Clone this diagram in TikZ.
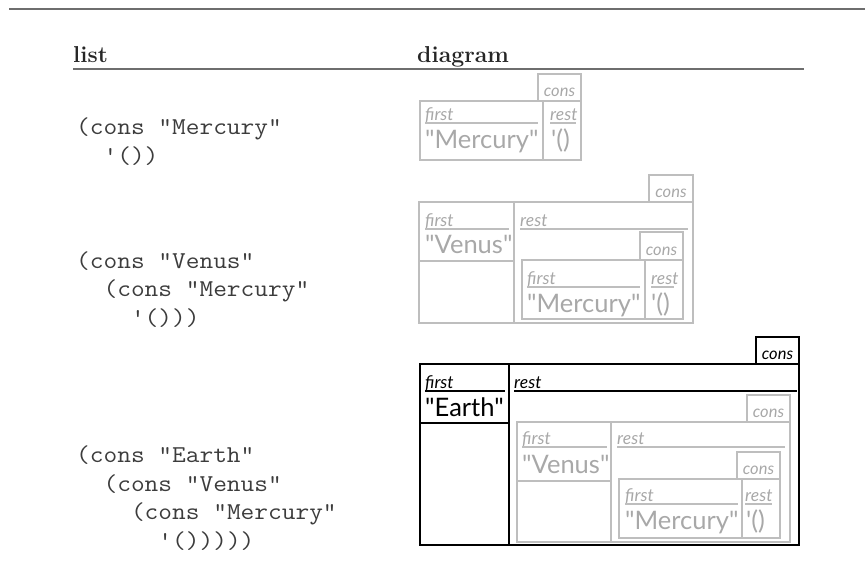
\documentclass[tikz,border=0pt]{standalone}
\usepackage{fontspec}
\newfontfamily\gillfont{Lato}
\newfontfamily\codefont{Latin Modern Mono}[FakeStretch=1.1]
\definecolor{boxgray}{RGB}{190,190,190}
\definecolor{txtgray}{RGB}{168,168,168}
\definecolor{codegray}{RGB}{60,60,60}
\definecolor{rulegray}{RGB}{110,110,110}
\tikzset{
  gbox/.style={draw=boxgray, line width=1.8pt},
  kbox/.style={draw=black, line width=1.8pt},
  gline/.style={draw=boxgray, line width=1.3pt},
  kline/.style={draw=black, line width=1.3pt},
  lbl/.style={anchor=base west, inner sep=0pt, font=\gillfont\itshape\fontsize{17.5}{19}\selectfont},
  tag/.style={anchor=base, inner sep=0pt, font=\gillfont\itshape\fontsize{16.5}{18}\selectfont},
  val/.style={anchor=base west, inner sep=0pt, font=\gillfont\fontsize{25.5}{28}\selectfont},
  codeblock/.style={anchor=base west, inner sep=0pt, align=left, text=codegray,
    font=\codefont\fontsize{24.2}{28.5}\selectfont},
  head/.style={anchor=base west, inner sep=0pt, text=black!85,
    font=\bfseries\fontsize{23}{26}\selectfont}
}
\begin{document}
\begin{tikzpicture}[x=1pt, y=-1pt]
\useasboundingbox (0,0) rectangle (865,584);
\draw[rulegray, line width=1.5pt] (9,9) -- (865,9);
\node[head] (hlist) at (73,62) {list};
\node[head] (hdiag) at (417,62) {diagram};
\draw[rulegray, line width=1.5pt] (73,69) -- (804,69);

\node[codeblock] (code1) at (76,163) {(cons "Mercury"\\\hphantom{xx}'())};
\node[codeblock] (code2) at (76,325) {(cons "Venus"\\\hphantom{xx}(cons "Mercury"\\\hphantom{xxxx}'()))};
\node[codeblock] (code3) at (76,548) {(cons "Earth"\\\hphantom{xx}(cons "Venus"\\\hphantom{xxxx}(cons "Mercury"\\\hphantom{xxxxxx}'()))))};

% mercury alone
\draw[gbox] (538,74) rectangle (581,101);
\draw[gbox] (420,101) rectangle (581,160);
\draw[gbox] (543,101) -- (543,160);
\node[tag, text=txtgray] (m1cons) at (559.5,96) {cons};
\node[lbl, text=txtgray] (m1first) at (425,120) {first};
\draw[gline] (425,123) -- (538,123);
\node[lbl, text=txtgray] (m1rest) at (550,120) {rest};
\draw[gline] (550,123) -- (576,123);
\node[val, text=txtgray] (m1val) at (425,148) {"Mercury"};
\node[val, text=txtgray] (m1nil) at (551,148) {'()};

% venus
\draw[gbox] (649,175) rectangle (693,202);
\draw[gbox] (419,202) rectangle (693,323);
\draw[gbox] (514,202) -- (514,323);
\draw[gbox] (419,261) -- (514,261);
\node[tag, text=txtgray] (v2cons) at (671,197) {cons};
\node[lbl, text=txtgray] (v2first) at (425,226) {first};
\draw[gline] (425,229) -- (509,229);
\node[lbl, text=txtgray] (v2rest) at (520,226) {rest};
\draw[gline] (520,229) -- (688,229);
\node[val, text=txtgray] (v2val) at (425,253) {"Venus"};
\draw[gbox] (640,232) rectangle (683,260);
\draw[gbox] (522,260) rectangle (683,319);
\draw[gbox] (645,260) -- (645,319);
\node[tag, text=txtgray] (m2cons) at (661.5,255) {cons};
\node[lbl, text=txtgray] (m2first) at (527,284) {first};
\draw[gline] (527,287) -- (640,287);
\node[lbl, text=txtgray] (m2rest) at (651,284) {rest};
\draw[gline] (651,287) -- (674,287);
\node[val, text=txtgray] (m2val) at (527,312) {"Mercury"};
\node[val, text=txtgray] (m2nil) at (651,312) {'()};

% earth
\draw[kbox] (756,337) rectangle (799,364);
\draw[kbox] (420,364) rectangle (799,545);
\draw[kbox] (509,364) -- (509,545);
\draw[kbox] (420,423) -- (509,423);
\node[tag] (e3cons) at (777.5,359) {cons};
\node[lbl] (e3first) at (425,388) {first};
\draw[kline] (425,391) -- (505,391);
\node[lbl] (e3rest) at (514,388) {rest};
\draw[kline] (514,391) -- (797,391);
\node[val] (e3val) at (425,416) {"Earth"};
\draw[gbox] (747,395) rectangle (790,422);
\draw[gbox] (517,422) rectangle (790,542);
\draw[gbox] (611,422) -- (611,542);
\draw[gbox] (517,481) -- (611,481);
\node[tag, text=txtgray] (v3cons) at (768.5,417) {cons};
\node[lbl, text=txtgray] (v3first) at (522,444) {first};
\draw[gline] (522,447) -- (607,447);
\node[lbl, text=txtgray] (v3rest) at (617,444) {rest};
\draw[gline] (617,447) -- (785,447);
\node[val, text=txtgray] (v3val) at (522,473) {"Venus"};
\draw[gbox] (737,452) rectangle (780,479);
\draw[gbox] (619,479) rectangle (780,538);
\draw[gbox] (742,479) -- (742,538);
\node[tag, text=txtgray] (m3cons) at (758.5,474) {cons};
\node[lbl, text=txtgray] (m3first) at (625,501) {first};
\draw[gline] (625,504) -- (738,504);
\node[lbl, text=txtgray] (m3rest) at (745,501) {rest};
\draw[gline] (745,504) -- (772,504);
\node[val, text=txtgray] (m3val) at (625,529) {"Mercury"};
\node[val, text=txtgray] (m3nil) at (746,529) {'()};
\end{tikzpicture}
\end{document}
